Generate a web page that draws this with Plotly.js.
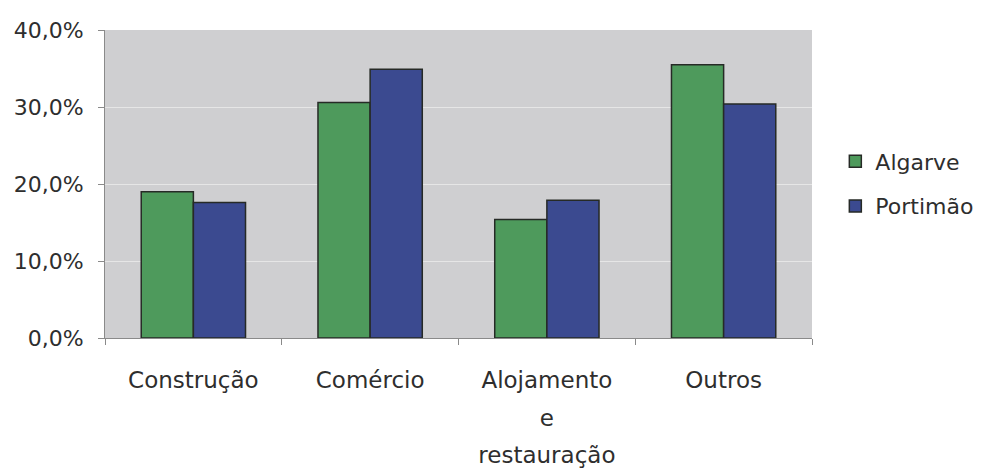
<!DOCTYPE html>
<html>
<head>
<meta charset="utf-8">
<script src="https://cdn.plot.ly/plotly-3.0.1.min.js"></script>
<style>
  html, body { margin: 0; padding: 0; background: #ffffff; }
  #chart { width: 992px; height: 468px; }
</style>
</head>
<body>
<div id="chart"></div>
<script>
// Sector categories (line breaks as shown under the axis)
const categories = ['Construção', 'Comércio', 'Alojamento<br>e<br>restauração', 'Outros'];

// Share of each sector, in percent
const algarve = [19.0, 30.6, 15.4, 35.5];
const portimao = [17.6, 34.9, 17.9, 30.4];

const seriesNames = ['Algarve', 'Portimão'];
const yTicks = [0, 10, 20, 30, 40];
const yTickText = yTicks.map(v => v.toFixed(1).replace('.', ',') + '%');

const textColor = '#2e2e2e';
const fontFamily = '"DejaVu Sans", Verdana, sans-serif';

// Tick label text is set smaller than the axis font so lines sit further apart
const labelSpan = s => s.split('<br>').map(p => '<span style="font-size:23px">' + p + '</span>').join('<br>');

const traces = [
  {
    type: 'bar',
    name: seriesNames[0],
    x: categories,
    y: algarve,
    legendgroup: 'a',
    marker: { color: '#4e9a5c', line: { color: '#262a26', width: 1.5 } },
    hoverinfo: 'skip'
  },
  {
    type: 'bar',
    name: seriesNames[1],
    x: categories,
    y: portimao,
    legendgroup: 'b',
    marker: { color: '#3b4a90', line: { color: '#262a26', width: 1.5 } },
    hoverinfo: 'skip'
  }
];

const layout = {
  width: 992,
  height: 468,
  margin: { l: 105, r: 180, t: 30, b: 130 },
  paper_bgcolor: '#ffffff',
  plot_bgcolor: '#cfcfd1',
  barmode: 'group',
  bargap: 0.41,
  bargroupgap: 0,
  showlegend: true,
  legend: {
    x: 1.033, xanchor: 'left',
    y: 0.5, yanchor: 'middle',
    font: { family: fontFamily, size: 22, color: textColor },
    tracegroupgap: 13,
    bgcolor: 'rgba(0,0,0,0)'
  },
  xaxis: {
    type: 'category',
    tickvals: categories,
    ticktext: categories.map(labelSpan),
    tickson: 'boundaries',
    ticks: 'outside',
    ticklen: 6,
    tickcolor: '#8a8a8a',
    showline: true,
    linecolor: '#8a8a8a',
    linewidth: 1,
    showgrid: false,
    tickfont: { family: fontFamily, size: 29, color: textColor },
    ticklabelstandoff: 14
  },
  yaxis: {
    range: [0, 40],
    tickmode: 'array',
    tickvals: yTicks,
    ticktext: yTickText,
    ticks: 'outside',
    ticklen: 6,
    tickcolor: '#8a8a8a',
    showline: true,
    linecolor: '#8a8a8a',
    linewidth: 1,
    showgrid: true,
    gridcolor: '#e6e6e6',
    gridwidth: 1,
    zeroline: false,
    tickfont: { family: fontFamily, size: 22, color: textColor },
    ticklabelstandoff: 10
  }
};

Plotly.newPlot('chart', traces, layout, { staticPlot: true, displayModeBar: false });
</script>
</body>
</html>
